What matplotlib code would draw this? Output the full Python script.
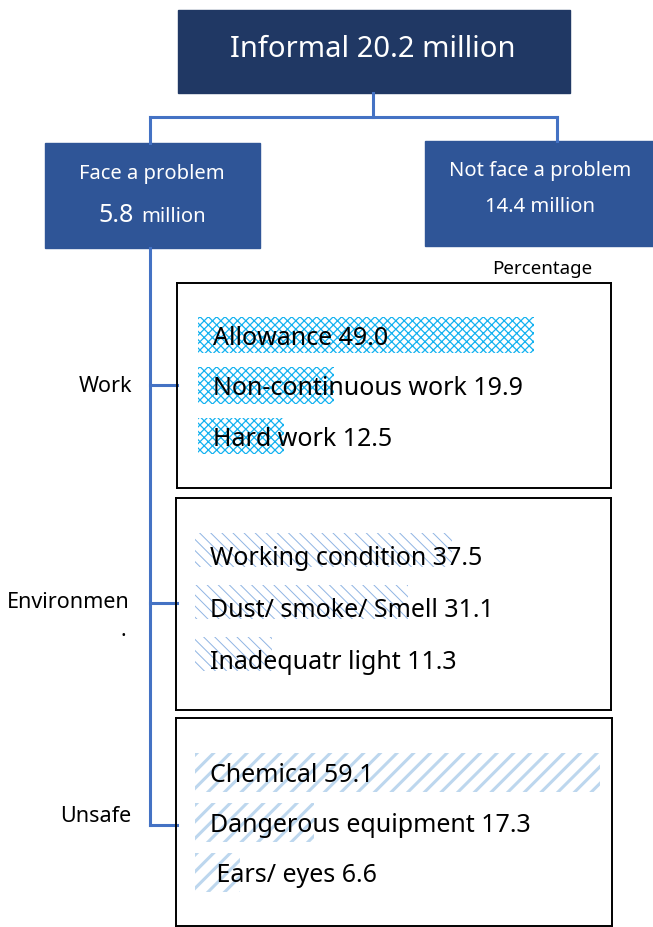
import matplotlib
matplotlib.use('Agg')
import matplotlib.pyplot as plt
from matplotlib.patches import Rectangle

plt.rcParams['font.family'] = ['Noto Sans', 'DejaVu Sans']

# Data
total_label = 'Informal 20.2 million'
face_problem = 5.8
no_problem = 14.4

work_items = ['Allowance', 'Non-continuous work', 'Hard work']
work_values = [49.0, 19.9, 12.5]

env_items = ['Working condition', 'Dust/ smoke/ Smell', 'Inadequatr light']
env_values = [37.5, 31.1, 11.3]

unsafe_items = ['Chemical', 'Dangerous equipment', ' Ears/ eyes']
unsafe_values = [59.1, 17.3, 6.6]

group_names = ['Work', 'Environmen', 'Unsafe']

W, H = 653, 927
fig = plt.figure(figsize=(W / 100, H / 100), dpi=100)

# background axes in pixel units for the tree boxes and connectors
bg = fig.add_axes([0, 0, 1, 1])
bg.set_xlim(0, W)
bg.set_ylim(H, 0)
bg.axis('off')

navy = '#203864'
mid_blue = '#2F5597'
line_blue = '#4472C4'

bg.add_patch(Rectangle((178, 10), 392, 83, color=navy))
bg.text(373, 49, total_label, color='white', fontsize=21, ha='center', va='center')

bg.add_patch(Rectangle((45, 143), 215, 105, color=mid_blue))
bg.text(152, 174, 'Face a problem', color='white', fontsize=14.5, ha='center', va='center')
bg.text(134, 215, f'{face_problem}', color='white', fontsize=18, ha='right', va='center')
bg.text(141, 217, 'million', color='white', fontsize=14.5, ha='left', va='center')

bg.add_patch(Rectangle((425, 141), 240, 105, color=mid_blue))
bg.text(540, 171, 'Not face a problem', color='white', fontsize=14.5, ha='center', va='center')
bg.text(540, 207, f'{no_problem} million', color='white', fontsize=14.5, ha='center', va='center')

lw = 2.2
bg.plot([373, 373], [93, 117], color=line_blue, lw=lw)
bg.plot([150, 557], [117, 117], color=line_blue, lw=lw)
bg.plot([150, 150], [117, 143], color=line_blue, lw=lw)
bg.plot([557, 557], [117, 141], color=line_blue, lw=lw)
bg.plot([150, 150], [248, 825], color=line_blue, lw=lw)
for yb in [385, 603, 825]:
    bg.plot([150, 177], [yb, yb], color=line_blue, lw=lw)

bg.text(542, 269, 'Percentage', fontsize=13.5, ha='center', va='center')
bg.text(132, 386, group_names[0], fontsize=15.5, ha='right', va='center')
bg.text(130, 602, group_names[1], fontsize=15.5, ha='right', va='center')
bg.text(126, 630, '.', fontsize=15.5, ha='right', va='center')
bg.text(131, 817, group_names[2], fontsize=15.5, ha='right', va='center')

scale = 6.85  # pixels per percentage point


def panel(box, x0, c0, pitch, height, items, values, hatch, hcolor, hlw, text_dy):
    px0, py0, px1, py1 = box
    ax = fig.add_axes([px0 / W, 1 - py1 / H, (px1 - px0) / W, (py1 - py0) / H])
    ax.set_xlim((px0 - x0) / scale, (px1 - x0) / scale)
    ax.set_ylim((py1 - c0) / pitch, (py0 - c0) / pitch)
    with plt.rc_context({'hatch.linewidth': hlw}):
        ax.barh(range(len(values)), values, height=height, color='white',
                edgecolor=hcolor, hatch=hatch, linewidth=0)
    for i, (name, v) in enumerate(zip(items, values)):
        ax.annotate(f'{name} {v:.1f}', xy=(0, i), xytext=(11, text_dy),
                    textcoords='offset points', va='center', fontsize=18)
    ax.set_xticks([])
    ax.set_yticks([])
    for s in ax.spines.values():
        s.set_linewidth(1.4)
        s.set_color('black')
    ax.patch.set_alpha(0)
    return ax


panel((177, 283, 611, 488), 198, 335, 50.5, 0.73, work_items, work_values,
      'xxxx', '#14B2F0', 0.9, -2.5)
panel((176, 498, 611, 710), 195, 550, 52, 0.66, env_items, env_values,
      '\\\\\\', '#8FB4E3', 0.7, -6)
panel((176, 718, 612, 926), 195, 772, 50, 0.78, unsafe_items, unsafe_values,
      '//', '#BDD7EE', 2.2, -2.5)

fig.savefig('out.png', dpi=100)
